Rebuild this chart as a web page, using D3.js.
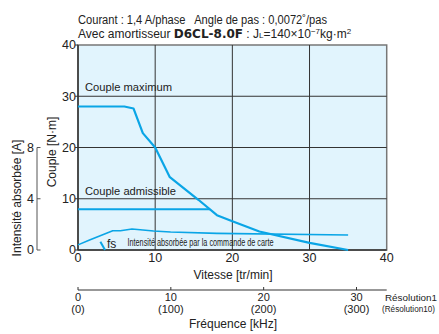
<!DOCTYPE html>
<html><head><meta charset="utf-8">
<script src="https://cdn.jsdelivr.net/npm/d3@7"></script>
<style>
body{margin:0;background:#fff;}
svg{display:block;font-family:"Liberation Sans",Arial,sans-serif;}
text{white-space:pre;}
</style></head>
<body><svg id="c" width="439" height="334"></svg>
<script>
// ---- data ----
const speedTicks = [0, 10, 20, 30, 40];
const torqueTicks = [0, 10, 20, 30, 40];
const currentTicks = [0, 4, 8];
const freqTicks = [0, 10, 20, 30];
const freqLabels2 = ["(0)", "(100)", "(200)", "(300)"];
const maxTorqueSpeed = [0, 6, 7.2, 8.4, 10, 11.9, 15.6, 18, 20, 23.5, 30, 35];
const maxTorqueValue = [28, 28, 27.6, 22.8, 20, 14.2, 9.8, 6.8, 5.6, 3.6, 1.4, 0];
const admissibleSpeed = [0, 17.1];
const admissibleValue = [7.95, 7.95];
const currentSpeed = [0, 1.5, 4.5, 5.5, 7, 9.8, 12, 18, 35];
const currentValue = [0.4, 0.78, 1.5, 1.5, 1.64, 1.48, 1.4, 1.3, 1.17];
const fsSpeed = [2.9, 3.5];
const fsValue = [1.6, 0];

const svg = d3.select("#c");
const x = d3.scaleLinear().domain([0, 40]).range([78, 386.7]);
const y = d3.scaleLinear().domain([0, 40]).range([250, 45]);
const yc = d3.scaleLinear().domain([0, 8]).range([250, 147.5]);
const xf = d3.scaleLinear().domain([0, 30]).range([78, 356.5]);
const blue = "#0aa5e6";
const txt = "#222";

// header
const h = svg.append("g").attr("fill", txt).attr("font-size", 12);
h.append("text").attr("x", 78).attr("y", 24).attr("textLength", 249).attr("lengthAdjust","spacingAndGlyphs")
  .text("Courant : 1,4 A/phase   Angle de pas : 0,0072˚/pas");
const t2 = h.append("text").attr("x", 78).attr("y", 38);
t2.append("tspan").text("Avec amortisseur ");
t2.append("tspan").attr("font-weight", "bold").attr("font-family","'DejaVu Sans',sans-serif").attr("font-size",12).text("D6CL-8.0F");
t2.append("tspan").text(" : J");
t2.append("tspan").attr("font-size", 8).text("L");
t2.append("tspan").text("=140×10");
t2.append("tspan").attr("font-size", 8).attr("dy", -4).text("−7");
t2.append("tspan").attr("dy", 4).text("kg·m");
t2.append("tspan").attr("font-size", 8).attr("dy", -4).text("2");

// plot background
svg.append("rect").attr("x", x(0)).attr("y", y(40)).attr("width", x(40) - x(0)).attr("height", y(0) - y(40))
  .attr("fill", "#e1f4fd").attr("stroke", "#777").attr("stroke-width", 1.5);

// grid
const g = svg.append("g").attr("stroke", "#333").attr("stroke-width", 1);
[10, 20, 30].forEach(v => {
  g.append("line").attr("x1", x(v)).attr("x2", x(v)).attr("y1", y(0)).attr("y2", y(40));
  g.append("line").attr("x1", x(0)).attr("x2", x(40)).attr("y1", y(v)).attr("y2", y(v));
});
svg.append("line").attr("x1", x(0)).attr("x2", x(0)).attr("y1", y(0)).attr("y2", y(40)).attr("stroke", "#333").attr("stroke-width", 1.5);
svg.append("line").attr("x1", x(0)).attr("x2", x(40)).attr("y1", y(0)).attr("y2", y(0)).attr("stroke", "#333").attr("stroke-width", 1.5);

// y axis ticks
const ya = svg.append("g").attr("font-size", 12.5).attr("fill", txt);
torqueTicks.forEach(v => {
  svg.append("line").attr("x1", x(0) - 3).attr("x2", x(0)).attr("y1", y(v)).attr("y2", y(v)).attr("stroke", "#333");
  ya.append("text").attr("x", 76).attr("y", y(v)).attr("dy", "0.35em").attr("text-anchor", "end").text(v);
});
// x axis labels
const xa = svg.append("g").attr("font-size", 12.5).attr("fill", txt).attr("text-anchor", "middle");
speedTicks.forEach(v => {
  xa.append("text").attr("x", x(v)).attr("y", 262).text(v);
});
svg.append("text").attr("x", 233).attr("y", 279).attr("text-anchor", "middle").attr("font-size", 12).attr("fill", txt).text("Vitesse [tr/min]");

// current axis
const ca = svg.append("g");
ca.append("line").attr("x1", 37).attr("x2", 37).attr("y1", yc(0)).attr("y2", yc(8)).attr("stroke", "#555").attr("stroke-width", 1);
currentTicks.forEach(v => {
  ca.append("line").attr("x1", 37).attr("x2", 40.5).attr("y1", yc(v)).attr("y2", yc(v)).attr("stroke", "#555");
  ca.append("text").attr("x", 34).attr("y", yc(v)).attr("dy", "0.35em").attr("text-anchor", "end").attr("font-size", 12.5).attr("fill", txt).text(v);
});
svg.append("text").attr("transform", "translate(56,152) rotate(-90)").attr("text-anchor", "middle").attr("font-size", 12).attr("fill", txt).text("Couple [N·m]");
svg.append("text").attr("transform", "translate(21,198) rotate(-90)").attr("text-anchor", "middle").attr("font-size", 12).attr("fill", txt).text("Intensité absorbée [A]");

// curves
const line = d3.line().x(d => x(d[0])).y(d => y(d[1]));
const lineC = d3.line().x(d => x(d[0])).y(d => yc(d[1]));
svg.append("path").datum(maxTorqueSpeed.map((s, i) => [s, maxTorqueValue[i]])).attr("d", line)
  .attr("fill", "none").attr("stroke", blue).attr("stroke-width", 2.2).attr("stroke-linejoin", "round");
svg.append("path").datum(admissibleSpeed.map((s, i) => [s, admissibleValue[i]])).attr("d", line)
  .attr("fill", "none").attr("stroke", blue).attr("stroke-width", 2);
svg.append("path").datum(currentSpeed.map((s, i) => [s, currentValue[i]])).attr("d", lineC)
  .attr("fill", "none").attr("stroke", blue).attr("stroke-width", 1.6).attr("stroke-linejoin", "round");
svg.append("path").datum(fsSpeed.map((s, i) => [s, fsValue[i]])).attr("d", line)
  .attr("fill", "none").attr("stroke", blue).attr("stroke-width", 2);

// curve labels
svg.append("text").attr("x", 85).attr("y", 91).attr("font-size", 11.5).attr("fill", txt)
  .attr("textLength", 87).attr("lengthAdjust", "spacingAndGlyphs").text("Couple maximum");
svg.append("text").attr("x", 85).attr("y", 195).attr("font-size", 11.5).attr("fill", txt)
  .attr("textLength", 91).attr("lengthAdjust", "spacingAndGlyphs").text("Couple admissible");
svg.append("text").attr("x", 107).attr("y", 248).attr("font-size", 12).attr("fill", txt).text("fs");
svg.append("text").attr("x", 127.5).attr("y", 245.5).attr("font-size", 10).attr("fill", txt)
  .attr("textLength", 146).attr("lengthAdjust", "spacingAndGlyphs").text("Intensité absorbée par la commande de carte");

// frequency axis
const fa = svg.append("g");
fa.append("line").attr("x1", xf(0)).attr("x2", x(40)).attr("y1", 290).attr("y2", 290).attr("stroke", "#333").attr("stroke-width", 1.2);
freqTicks.forEach((v, i) => {
  fa.append("line").attr("x1", xf(v)).attr("x2", xf(v)).attr("y1", 287).attr("y2", 290).attr("stroke", "#333");
  fa.append("text").attr("x", xf(v)).attr("y", 300.5).attr("text-anchor", "middle").attr("font-size", 11).attr("fill", txt).text(v);
  fa.append("text").attr("x", xf(v)).attr("y", 312.5).attr("text-anchor", "middle").attr("font-size", 11).attr("fill", txt).text(freqLabels2[i]);
});
fa.append("text").attr("x", 385).attr("y", 300.5).attr("font-size", 9.5).attr("fill", txt)
  .attr("textLength", 52).attr("lengthAdjust", "spacingAndGlyphs").text("Résolution1");
fa.append("text").attr("x", 382).attr("y", 312).attr("font-size", 8.5).attr("fill", txt)
  .attr("textLength", 53).attr("lengthAdjust", "spacingAndGlyphs").text("(Résolution10)");
svg.append("text").attr("x", 233).attr("y", 328).attr("text-anchor", "middle").attr("font-size", 12).attr("fill", txt).text("Fréquence [kHz]");
</script></body></html>
